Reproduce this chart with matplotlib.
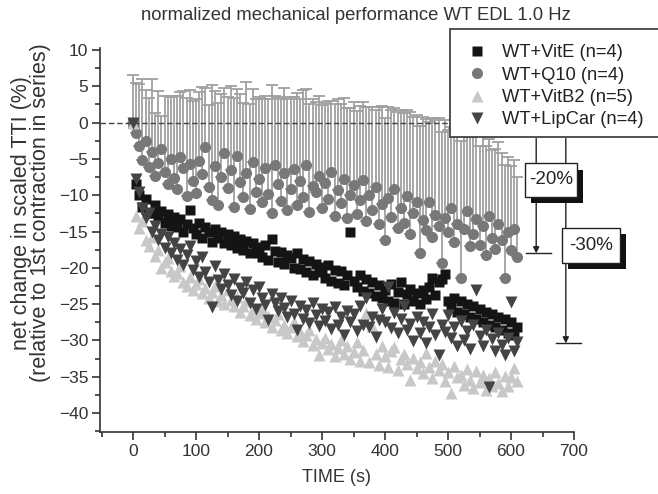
import matplotlib
matplotlib.use("Agg")
import matplotlib.pyplot as plt
from matplotlib.patches import Rectangle
from matplotlib.ticker import MultipleLocator
import numpy as np

plt.rcParams['font.family'] = ['Liberation Sans', 'DejaVu Sans']

# time axis (s), one point every 5 s
t = np.arange(0, 611, 5)

vit_e = [0, -8.5, -10, -11.6, -10.5, -12.4, -12.5, -11.4, -13, -12.2,
         -13.8, -12.6, -14.2, -13.0, -14.4, -13.3, -15.0, -13.9, -12.0, -14.5,
         -15.4, -13.8, -15.9, -14.4, -15.0, -16.4, -14.6, -15.9, -15.0, -16.6,
         -15.3, -16.9, -15.6, -17.2, -16.0, -17.6, -16.3, -18.0, -16.6, -17.1,
         -17.9, -18.5, -16.8, -18.9, -16.0, -17.7, -19.2, -17.8, -19.5, -18.2,
         -18.6, -20.0, -18.0, -20.2, -18.8, -20.6, -19.1, -21.0, -19.5, -19.9,
         -20.6, -21.4, -19.6, -21.8, -20.3, -22.1, -20.5, -22.4, -21.0, -15.0,
         -21.8, -22.7, -21.0, -23.2, -21.6, -23.4, -22.0, -23.9, -22.4, -24.2,
         -23.0, -24.5, -22.2, -24.8, -23.3, -21.9, -25.0, -23.6, -22.9, -24.5,
         -23.4, -25.0, -23.0, -24.3, -22.6, -21.4, -23.8, -22.0, -21.6, -20.8,
         -24.5, -25.4, -24.2, -26.1, -24.6, -26.4, -25.0, -26.8, -25.2, -27.1,
         -25.7, -27.5, -26.1, -27.9, -26.4, -28.2, -26.7, -28.6, -27.1, -28.9,
         -27.5, -29.3, -28.2]

q10 = [0, -1.4, -3.2, -5.2, -2.5, -6.1, -4.0, -7.3, -5.5, -3.6,
       -6.8, -8.4, -5.0, -7.6, -9.2, -4.8, -6.3, -10.1, -5.7, -8.0,
       -9.7, -5.3, -7.1, -3.3, -8.8, -10.6, -6.0, -11.3, -7.5, -4.2,
       -9.0, -6.5, -11.6, -4.6, -8.2, -10.3, -6.9, -11.9, -5.4, -9.5,
       -7.7, -11.0, -6.2, -9.8, -12.5, -5.8, -8.5, -10.8, -7.0, -12.0,
       -9.1, -6.4, -11.4, -8.0, -10.2, -5.9, -12.3, -8.7, -9.6, -7.3,
       -11.8, -8.3, -10.5, -6.8, -12.8, -9.3, -11.1, -7.8, -13.2, -10.0,
       -8.6, -12.6, -10.7, -7.9, -13.6, -9.9, -12.1, -8.8, -14.0, -11.2,
       -16.2, -10.4, -13.0, -9.2, -14.5, -11.7, -13.8, -10.1, -15.3, -12.4,
       -11.0, -18.0, -13.4, -14.8, -10.9, -15.8, -12.7, -14.2, -19.3, -13.1,
       -15.0, -11.8, -16.5, -13.9, -21.4, -14.6, -12.2, -17.0, -15.4, -13.3,
       -16.8, -14.3, -18.2, -12.8, -15.9, -17.4, -14.0, -16.2, -21.4, -15.1,
       -17.6, -14.7, -18.5]

q10_err = [6.6, 6.8, 8.5, 11.2, 7.0, 9.5, 10.0, 8.6, 9.8, 4.5,
           10.5, 12.0, 8.5, 11.3, 12.8, 9.0, 10.6, 13.5, 10.2, 11.0,
           13.0, 9.5, 12.0, 8.1, 11.2, 15.8, 10.3, 14.0, 11.5, 9.0,
           12.5, 11.5, 15.0, 9.2, 12.2, 13.0, 12.5, 14.5, 10.0, 12.8,
           11.2, 14.2, 9.8, 13.0, 17.7, 9.5, 12.0, 14.0, 11.8, 15.2,
           12.6, 9.9, 15.5, 11.2, 14.7, 10.5, 14.8, 12.0, 12.5, 11.0,
           14.2, 11.0, 13.5, 9.8, 15.3, 12.5, 13.6, 11.2, 15.2, 12.0,
           11.5, 14.2, 13.0, 10.8, 15.8, 12.0, 14.3, 10.5, 16.1, 13.5,
           16.8, 12.6, 14.8, 11.2, 16.0, 13.5, 15.1, 11.8, 16.8, 13.2,
           12.1, 17.5, 14.2, 15.3, 11.0, 16.5, 13.0, 14.8, 18.0, 13.5,
           14.0, 11.2, 15.6, 12.8, 18.9, 13.5, 11.5, 15.0, 13.8, 12.4,
           13.6, 12.4, 15.0, 10.5, 12.1, 13.8, 11.3, 12.0, 15.5, 10.4,
           11.6, 9.5, 11.0]

vit_b2 = [0, -12.8, -14.5, -13.6, -16.2, -17.0, -15.8, -18.3, -17.5, -20.0,
          -19.2, -18.6, -20.4, -21.1, -20.7, -19.8, -21.9, -22.5, -21.2, -23.0,
          -22.2, -21.6, -23.4, -22.8, -24.1, -23.3, -22.5, -24.6, -23.7, -25.0,
          -23.0, -24.4, -25.3, -24.0, -26.1, -25.2, -24.6, -26.5, -25.8, -27.0,
          -26.2, -25.5, -27.4, -26.6, -28.1, -27.2, -26.4, -28.6, -27.8, -29.0,
          -28.2, -27.5, -29.4, -28.8, -30.1, -29.3, -28.6, -30.6, -29.8, -32.0,
          -30.4, -29.6, -31.2, -30.5, -32.1, -31.0, -29.9, -31.8, -30.8, -32.5,
          -31.6, -30.2, -32.8, -31.3, -26.2, -33.0, -28.0, -31.9, -33.4, -30.7,
          -32.2, -33.6, -31.5, -30.9, -34.0, -32.6, -31.8, -33.3, -35.5, -32.4,
          -33.8, -32.9, -34.5, -31.7, -33.6, -35.2, -32.8, -34.1, -33.2, -35.6,
          -34.3, -37.2, -33.5, -35.0, -34.7, -36.1, -33.9, -35.4, -36.5, -34.2,
          -35.7, -34.8, -36.8, -35.1, -36.3, -34.4, -35.9, -37.0, -34.9, -36.2,
          -35.0, -33.8, -35.6]

lip_car = [0, -7.8, -9.5, -11.8, -13.2, -12.5, -15.0, -14.2, -16.1, -15.3,
           -17.2, -15.8, -18.0, -16.6, -18.9, -17.4, -19.6, -18.2, -17.0, -20.3,
           -19.0, -21.2, -18.5, -20.6, -22.0, -25.4, -19.8, -21.7, -22.9, -20.9,
           -22.3, -23.8, -21.5, -24.6, -22.8, -23.5, -21.9, -24.9, -23.1, -25.6,
           -22.7, -24.2, -25.1, -27.2, -23.6, -24.8, -26.0, -24.1, -25.5, -26.8,
           -24.5, -26.3, -28.6, -25.2, -27.0, -25.8, -27.6, -24.9, -26.5, -28.0,
           -25.6, -27.3, -26.1, -28.4, -25.4, -27.8, -26.7, -29.2, -25.9, -27.5,
           -26.4, -28.7, -25.3, -27.9, -24.2, -28.1, -26.8, -29.5, -27.2, -25.7,
           -27.4, -22.6, -28.3, -26.2, -29.0, -27.1, -25.3, -28.6, -27.7, -30.1,
           -26.8, -28.9, -27.5, -30.4, -28.2, -26.4, -29.3, -32.0, -27.9, -28.8,
           -26.5, -29.6, -28.1, -30.7, -27.3, -29.9, -28.7, -31.2, -27.8, -23.0,
           -29.4, -30.8, -28.6, -36.4, -29.8, -31.5, -28.9, -30.6, -32.0, -29.7,
           -24.7, -31.4, -30.2]

labels = ['WT+VitE (n=4)', 'WT+Q10 (n=4)', 'WT+VitB2 (n=5)', 'WT+LipCar (n=4)']

# fatigue marks: level, arrow x, box text
mark_levels = [-18, -30.4]
mark_x = [640, 687]
mark_text = ['-20%', '-30%']

fig = plt.figure(figsize=(6.58, 4.94), dpi=100)
ax = fig.add_axes([100/658, 1-432/494, 474/658, (432-47.8)/494])

ax.axhline(0, color='#444444', lw=1, ls=(0, (4, 2)), zorder=4)

ax.errorbar(t, q10, yerr=[np.zeros(len(t)), q10_err], fmt='none',
            ecolor='#a0a0a0', elinewidth=1.3, capsize=4, capthick=1.3, zorder=2)
h1, = ax.plot(t, vit_e, 's', color='#141414', ms=6.5, mec='none', zorder=3)
h2, = ax.plot(t, q10, 'o', color='#787878', ms=8, mec='none', zorder=3)
h3, = ax.plot(t, vit_b2, '^', color='#c8c8c8', ms=8, mec='none', zorder=3)
h4, = ax.plot(t, lip_car, 'v', color='#444444', ms=8, mec='none', zorder=3)

ax.set_xlim(-52.4, 700)
ax.set_ylim(-42.6, 10.3)
ax.xaxis.set_major_locator(MultipleLocator(100))
ax.xaxis.set_minor_locator(MultipleLocator(50))
ax.yaxis.set_major_locator(MultipleLocator(5))
ax.yaxis.set_minor_locator(MultipleLocator(2.5))
ax.spines['top'].set_visible(False)
ax.spines['right'].set_visible(False)
for s in ['left', 'bottom']:
    ax.spines[s].set_color('#333333')
    ax.spines[s].set_linewidth(1.2)
ax.tick_params(which='major', length=6, width=1.2, color='#333333',
               labelsize=12.5, labelcolor='#333333', pad=2.5)
ax.tick_params(which='minor', length=3.5, width=1.2, color='#333333')

ax.set_xlabel('TIME (s)', fontsize=13, color='#333333', labelpad=7)
ax.set_ylabel('net change in scaled TTI (%)\n(relative to 1st contraction in series)',
              fontsize=15.5, color='#333333', linespacing=0.88)
ax.yaxis.set_label_coords(-0.104, 0.57)
fig.text(356/658, 1-15/494, 'normalized mechanical performance WT EDL 1.0 Hz',
         ha='center', va='center', fontsize=13.3, color='#333333')

# arrows and level lines
for lv, xm in zip(mark_levels, mark_x):
    ax.plot([xm - 16, xm + 24], [lv, lv], color='#222222', lw=1, clip_on=False)
    ax.annotate('', xy=(xm, lv), xytext=(xm, -2.2), annotation_clip=False,
                arrowprops=dict(arrowstyle='-|>', color='#222222', lw=1,
                                mutation_scale=9, shrinkA=0, shrinkB=0))

# shadowed boxes
boxes = [(622, -10.2, 83, 4.6), (681, -19.3, 92, 4.8)]
for (bx, by, bw, bh), txt in zip(boxes, mark_text):
    ax.add_patch(Rectangle((bx + 10, by - 0.9), bw, bh, facecolor='#111111',
                           edgecolor='none', clip_on=False, zorder=5))
    ax.add_patch(Rectangle((bx, by), bw, bh, facecolor='white', edgecolor='#222222',
                           lw=1, clip_on=False, zorder=5))
    ax.text(bx + bw/2, by + bh/2, txt, ha='center', va='center', fontsize=13.5,
            color='#222222', zorder=7, clip_on=False)

# legend box
fig.add_artist(Rectangle((450/658, 1-137/494), 260/658, 108/494,
                         transform=fig.transFigure, facecolor='white',
                         edgecolor='#333333', lw=1.2, zorder=4))
leg = fig.legend([h1, h2, h3, h4], labels, loc='upper left',
                 bbox_to_anchor=(468/658, 1-44/494), frameon=False, fontsize=13.2,
                 borderpad=0, borderaxespad=0, handlelength=1.0, handletextpad=0.85,
                 labelspacing=0.3, numpoints=1)
leg.set_zorder(6)
for txt in leg.get_texts():
    txt.set_color('#222222')

fig.savefig('out.png', dpi=100)
